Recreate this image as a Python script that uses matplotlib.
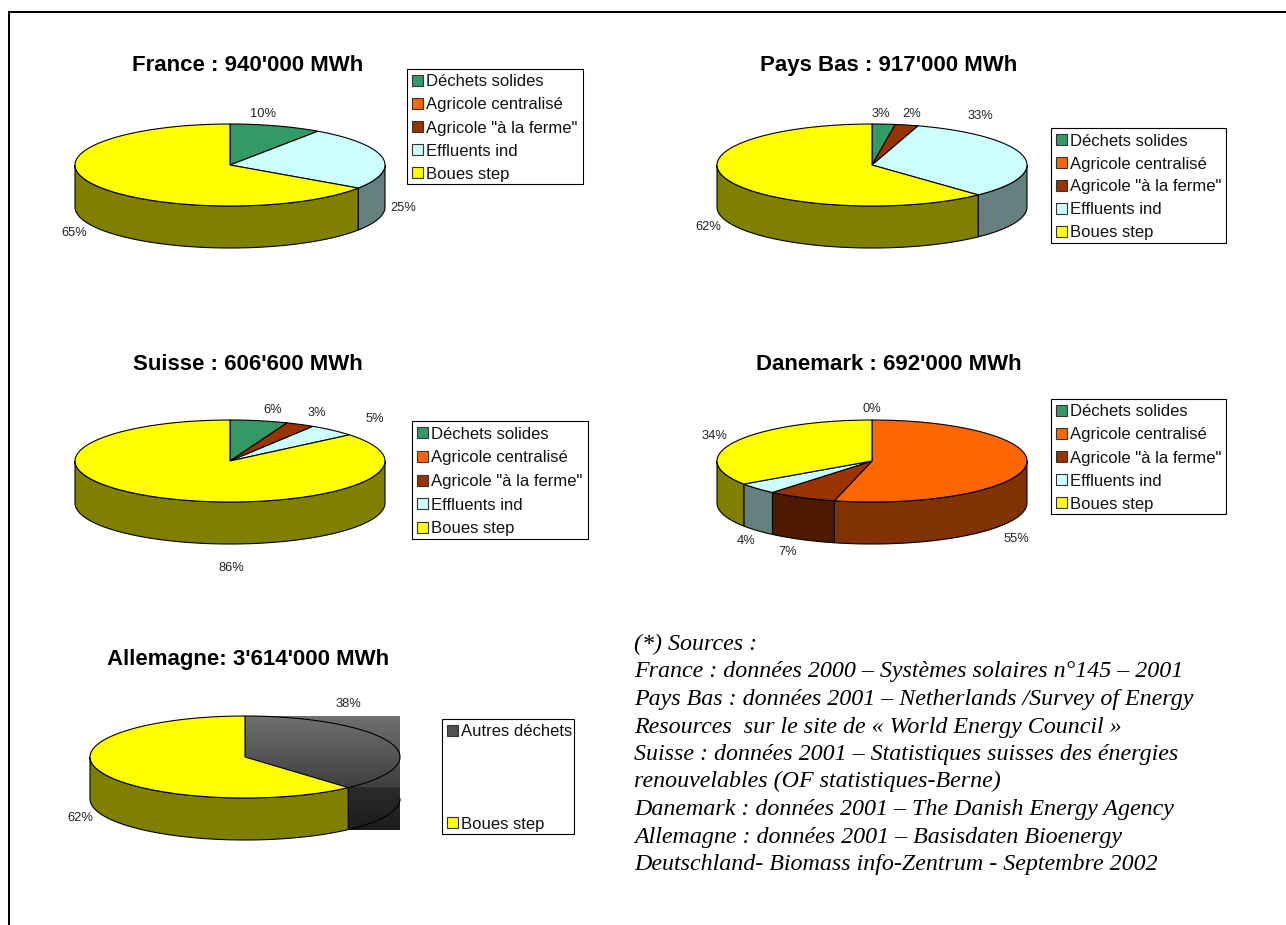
import numpy as np
import matplotlib
matplotlib.use("Agg")
import matplotlib.pyplot as plt
from matplotlib.patches import Polygon, Rectangle

# series names
cats = ["Déchets solides", "Agricole centralisé", 'Agricole "à la ferme"', "Effluents ind", "Boues step"]
cols = ["#339966", "#FF6600", "#993300", "#CCFFFF", "#FFFF00"]

# shares, same order as cats (printed labels are rounded)
france = [9.6, 0, 0, 24.9, 65.5]
pays_bas = [2.4, 0, 2.4, 33.2, 62]
suisse = [6, 0, 3, 5, 86]
danemark = [0, 53.9, 7.2, 4.4, 34.5]
allemagne = [38.4, 61.6]

sources = [
    "(*) Sources :",
    "France : données 2000 – Systèmes solaires n°145 – 2001",
    "Pays Bas : données 2001 – Netherlands /Survey of Energy",
    "Resources  sur le site de « World Energy Council »",
    "Suisse : données 2001 – Statistiques suisses des énergies",
    "renouvelables (OF statistiques-Berne)",
    "Danemark : données 2001 – The Danish Energy Agency",
    "Allemagne : données 2001 – Basisdaten Bioenergy",
    "Deutschland- Biomass info-Zentrum - Septembre 2002",
]

RX, RY, DEPTH = 155, 41, 42
LW = 0.8

plt.rcParams["font.family"] = "Liberation Sans"
fig = plt.figure(figsize=(12.86, 9.25), dpi=100)
ax = fig.add_axes([0, 0, 1, 1])
ax.set_xlim(0, 1286)
ax.set_ylim(925, 0)
ax.axis("off")


def darker(c):
    return tuple(v * 0.5 for v in matplotlib.colors.to_rgb(c))


def angles(vals):
    # clockwise from 12 o'clock, in radians
    edges = np.cumsum([0] + list(vals)) / sum(vals) * 2 * np.pi
    return edges[:-1], edges[1:]


def rim(cx, cy, a0, a1):
    t = np.linspace(a0, a1, 120)
    return cx + RX * np.sin(t), cy - RY * np.cos(t)


def draw_pie(cx, cy, vals, colors, skip=()):
    starts, ends = angles(vals)
    # sides first, only the front half of the rim shows
    for a0, a1, c, i in zip(starts, ends, colors, range(len(vals))):
        lo, hi = max(a0, np.pi / 2), min(a1, 3 * np.pi / 2)
        if hi <= lo:
            continue
        x, y = rim(cx, cy, lo, hi)
        if i in skip:
            ax.plot(x, y + DEPTH, color="black", lw=LW, zorder=3)
            continue
        pts = np.r_[np.c_[x, y], np.c_[x[::-1], y[::-1] + DEPTH]]
        ax.add_patch(Polygon(pts, fc=darker(c), ec="black", lw=LW, zorder=2))
    for a0, a1, c, i in zip(starts, ends, colors, range(len(vals))):
        if a1 <= a0:
            continue
        x, y = rim(cx, cy, a0, a1)
        pts = np.r_[[[cx, cy]], np.c_[x, y]]
        if i in skip:
            ax.plot(pts[:, 0], pts[:, 1], color="black", lw=LW, zorder=3)
        else:
            ax.add_patch(Polygon(pts, fc=c, ec="black", lw=LW, zorder=3))


def draw_legend(x0, y0, x1, y1, names, colors):
    ax.add_patch(Rectangle((x0, y0), x1 - x0, y1 - y0, fc="white", ec="black", lw=LW, zorder=4))
    step = (y1 - y0) / 5
    for i, (n, c) in enumerate(zip(names, colors)):
        if n == "":
            continue
        yc = y0 + step * (i + 0.5)
        ax.add_patch(Rectangle((x0 + 5, yc - 5.5), 11, 11, fc=c, ec="#333333", lw=LW, zorder=5))
        ax.text(x0 + 19, yc, n, fontsize=12, va="center_baseline", ha="left", zorder=5, color="#111111")


def labels(items):
    for txt, x, y in items:
        ax.text(x, y, txt, fontsize=9.3, ha="center", va="center", color="#222222")


def title(txt, x, y):
    ax.text(x, y, txt, fontsize=16, fontweight="bold", ha="center", va="baseline", color="black")


# frame of the page, open on the right and at the bottom
ax.plot([9, 9, 1286], [925, 12, 12], color="black", lw=1.44, solid_joinstyle="miter", clip_on=False)

# France
title("France : 940'000 MWh", 248, 71)
draw_pie(230, 165, france, cols)
draw_legend(407, 69, 583, 184, cats, cols)
labels([("10%", 263, 114), ("25%", 403, 208), ("65%", 74, 233)])

# Pays Bas
title("Pays Bas : 917'000 MWh", 889, 71)
draw_pie(872, 165, pays_bas, cols)
draw_legend(1051, 128, 1226, 243, cats, cols)
labels([("3%", 881, 114), ("2%", 912, 114), ("33%", 980, 116), ("62%", 708, 227)])

# Suisse
title("Suisse : 606'600 MWh", 248, 370)
draw_pie(230, 461, suisse, cols)
draw_legend(412, 421, 588, 539, cats, cols)
labels([("6%", 273, 410), ("3%", 317, 413), ("5%", 375, 419), ("86%", 231, 568)])

# Danemark
title("Danemark : 692'000 MWh", 889, 370)
draw_pie(872, 461, danemark, cols)
draw_legend(1051, 399, 1226, 514, cats, cols)
labels([("0%", 872, 409), ("34%", 715, 436), ("55%", 1016, 539), ("7%", 788, 552), ("4%", 746, 541)])

# Allemagne, grey gradient drawn as a rectangle behind the grey slice
title("Allemagne: 3'614'000 MWh", 248, 665)
a_end = angles(allemagne)[1][0]
rim_x, rim_y = rim(245, 757, a_end, a_end)
grad = np.linspace(0.44, 0.25, 50).reshape(-1, 1)
ax.imshow(grad, cmap="gray", vmin=0, vmax=1, aspect="auto", zorder=1,
          extent=[245, 400, rim_y[0], 716], interpolation="bilinear")
grad2 = np.linspace(0.17, 0.11, 50).reshape(-1, 1)
ax.imshow(grad2, cmap="gray", vmin=0, vmax=1, aspect="auto", zorder=1,
          extent=[rim_x[0], 400, 830, rim_y[0]], interpolation="bilinear")
ax.set_xlim(0, 1286)
ax.set_ylim(925, 0)
draw_pie(245, 757, allemagne, ["#505050", "#FFFF00"], skip=(0,))
draw_legend(442, 719, 574, 834, ["Autres déchets", "", "", "", "Boues step"],
            ["#505050", "", "", "", "#FFFF00"])
labels([("38%", 348, 704), ("62%", 80, 818)])

# notes
for i, line in enumerate(sources):
    ax.text(634, 650 + i * 27.5, line, fontsize=17.3, fontstyle="italic", family="Liberation Serif",
            ha="left", va="baseline", color="black")

fig.savefig("out.png", dpi=100)
